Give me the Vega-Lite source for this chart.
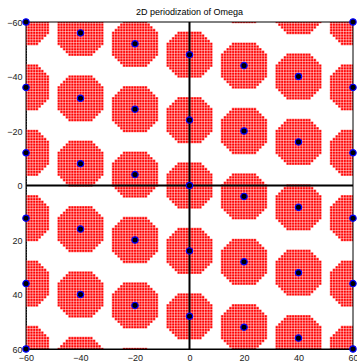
{
  "$schema": "https://vega.github.io/schema/vega-lite/v6.json",
  "width": 327,
  "height": 327,
  "autosize": {"type": "none"},
  "padding": {"left": 26, "top": 22, "right": 4, "bottom": 14},
  "title": {"text": "2D periodization of Omega", "fontSize": 9, "fontWeight": "normal", "font": "Liberation Sans", "color": "black", "offset": -1},
  "config": {
    "view": {"stroke": null},
    "axis": {"domainColor": "black", "domainWidth": 1, "ticks": false, "grid": false, "labelFont": "Liberation Sans", "labelFontSize": 9, "labelColor": "#222", "labelPadding": 4, "labelFlush": false, "labelOverlap": false, "title": null}
  },
  "datasets": {
    "centers": [
      {"x": -60, "y": -60}, {"x": -60, "y": -36}, {"x": -60, "y": -12}, {"x": -60, "y": 12}, {"x": -60, "y": 36}, {"x": -60, "y": 60},
      {"x": -40, "y": -56}, {"x": -40, "y": -32}, {"x": -40, "y": -8}, {"x": -40, "y": 16}, {"x": -40, "y": 40}, {"x": -40, "y": 64},
      {"x": -20, "y": -52}, {"x": -20, "y": -28}, {"x": -20, "y": -4}, {"x": -20, "y": 20}, {"x": -20, "y": 44}, {"x": -20, "y": 68},
      {"x": 0, "y": -48}, {"x": 0, "y": -24}, {"x": 0, "y": 0}, {"x": 0, "y": 24}, {"x": 0, "y": 48},
      {"x": 20, "y": -68}, {"x": 20, "y": -44}, {"x": 20, "y": -20}, {"x": 20, "y": 4}, {"x": 20, "y": 28}, {"x": 20, "y": 52},
      {"x": 40, "y": -64}, {"x": 40, "y": -40}, {"x": 40, "y": -16}, {"x": 40, "y": 8}, {"x": 40, "y": 32}, {"x": 40, "y": 56},
      {"x": 60, "y": -60}, {"x": 60, "y": -36}, {"x": 60, "y": -12}, {"x": 60, "y": 12}, {"x": 60, "y": 36}, {"x": 60, "y": 60}
    ],
    "grid": [
      {"g": -59.5}, {"g": -58.5}, {"g": -57.5}, {"g": -56.5}, {"g": -55.5}, {"g": -54.5}, {"g": -53.5}, {"g": -52.5}, {"g": -51.5}, {"g": -50.5},
      {"g": -49.5}, {"g": -48.5}, {"g": -47.5}, {"g": -46.5}, {"g": -45.5}, {"g": -44.5}, {"g": -43.5}, {"g": -42.5}, {"g": -41.5}, {"g": -40.5},
      {"g": -39.5}, {"g": -38.5}, {"g": -37.5}, {"g": -36.5}, {"g": -35.5}, {"g": -34.5}, {"g": -33.5}, {"g": -32.5}, {"g": -31.5}, {"g": -30.5},
      {"g": -29.5}, {"g": -28.5}, {"g": -27.5}, {"g": -26.5}, {"g": -25.5}, {"g": -24.5}, {"g": -23.5}, {"g": -22.5}, {"g": -21.5}, {"g": -20.5},
      {"g": -19.5}, {"g": -18.5}, {"g": -17.5}, {"g": -16.5}, {"g": -15.5}, {"g": -14.5}, {"g": -13.5}, {"g": -12.5}, {"g": -11.5}, {"g": -10.5},
      {"g": -9.5}, {"g": -8.5}, {"g": -7.5}, {"g": -6.5}, {"g": -5.5}, {"g": -4.5}, {"g": -3.5}, {"g": -2.5}, {"g": -1.5}, {"g": -0.5},
      {"g": 0.5}, {"g": 1.5}, {"g": 2.5}, {"g": 3.5}, {"g": 4.5}, {"g": 5.5}, {"g": 6.5}, {"g": 7.5}, {"g": 8.5}, {"g": 9.5},
      {"g": 10.5}, {"g": 11.5}, {"g": 12.5}, {"g": 13.5}, {"g": 14.5}, {"g": 15.5}, {"g": 16.5}, {"g": 17.5}, {"g": 18.5}, {"g": 19.5},
      {"g": 20.5}, {"g": 21.5}, {"g": 22.5}, {"g": 23.5}, {"g": 24.5}, {"g": 25.5}, {"g": 26.5}, {"g": 27.5}, {"g": 28.5}, {"g": 29.5},
      {"g": 30.5}, {"g": 31.5}, {"g": 32.5}, {"g": 33.5}, {"g": 34.5}, {"g": 35.5}, {"g": 36.5}, {"g": 37.5}, {"g": 38.5}, {"g": 39.5},
      {"g": 40.5}, {"g": 41.5}, {"g": 42.5}, {"g": 43.5}, {"g": 44.5}, {"g": 45.5}, {"g": 46.5}, {"g": 47.5}, {"g": 48.5}, {"g": 49.5},
      {"g": 50.5}, {"g": 51.5}, {"g": 52.5}, {"g": 53.5}, {"g": 54.5}, {"g": 55.5}, {"g": 56.5}, {"g": 57.5}, {"g": 58.5}, {"g": 59.5}
    ],
    "zero": [{"v": 0}],
    "frame": [{"v": -60}, {"v": 60}]
  },
  "layer": [
    {
      "data": {"name": "centers"},
      "mark": {"type": "point", "clip": true, "filled": true, "fill": "#ff0000", "strokeWidth": 0, "opacity": 1, "size": 2146,
        "shape": "M -0.5294 -1 L 0.5294 -1 L 0.5294 -0.8824 L 0.6471 -0.8824 L 0.6471 -0.7647 L 0.7647 -0.7647 L 0.7647 -0.6471 L 0.8824 -0.6471 L 0.8824 -0.5294 L 1 -0.5294 L 1 0.5294 L 0.8824 0.5294 L 0.8824 0.6471 L 0.7647 0.6471 L 0.7647 0.7647 L 0.6471 0.7647 L 0.6471 0.8824 L 0.5294 0.8824 L 0.5294 1 L -0.5294 1 L -0.5294 0.8824 L -0.6471 0.8824 L -0.6471 0.7647 L -0.7647 0.7647 L -0.7647 0.6471 L -0.8824 0.6471 L -0.8824 0.5294 L -1 0.5294 L -1 -0.5294 L -0.8824 -0.5294 L -0.8824 -0.6471 L -0.7647 -0.6471 L -0.7647 -0.7647 L -0.6471 -0.7647 L -0.6471 -0.8824 L -0.5294 -0.8824 Z"},
      "encoding": {
        "x": {"field": "x", "type": "quantitative", "scale": {"domain": [-60, 60], "nice": false, "zero": false}, "axis": {"values": [-60, -40, -20, 0, 20, 40, 60]}},
        "y": {"field": "y", "type": "quantitative", "scale": {"domain": [-60, 60], "nice": false, "zero": false, "reverse": true}, "axis": {"values": [-60, -40, -20, 0, 20, 40, 60]}}
      }
    },
    {
      "data": {"name": "grid"},
      "mark": {"type": "rule", "clip": true, "color": "white", "strokeWidth": 0.5},
      "encoding": {"x": {"field": "g", "type": "quantitative", "axis": {"values": [-60, -40, -20, 0, 20, 40, 60]}}}
    },
    {
      "data": {"name": "grid"},
      "mark": {"type": "rule", "clip": true, "color": "white", "strokeWidth": 0.5},
      "encoding": {"y": {"field": "g", "type": "quantitative", "axis": {"values": [-60, -40, -20, 0, 20, 40, 60]}}}
    },
    {
      "data": {"name": "zero"},
      "mark": {"type": "rule", "color": "black", "strokeWidth": 2},
      "encoding": {"x": {"field": "v", "type": "quantitative", "axis": {"values": [-60, -40, -20, 0, 20, 40, 60]}}}
    },
    {
      "data": {"name": "zero"},
      "mark": {"type": "rule", "color": "black", "strokeWidth": 2},
      "encoding": {"y": {"field": "v", "type": "quantitative", "axis": {"values": [-60, -40, -20, 0, 20, 40, 60]}}}
    },
    {
      "data": {"name": "frame"},
      "mark": {"type": "rule", "color": "black", "strokeWidth": 1},
      "encoding": {"x": {"field": "v", "type": "quantitative", "axis": {"values": [-60, -40, -20, 0, 20, 40, 60]}}}
    },
    {
      "data": {"name": "frame"},
      "mark": {"type": "rule", "color": "black", "strokeWidth": 1},
      "encoding": {"y": {"field": "v", "type": "quantitative", "axis": {"values": [-60, -40, -20, 0, 20, 40, 60]}}}
    },
    {
      "data": {"name": "centers"},
      "transform": [{"filter": {"field": "y", "range": [-60, 60]}}],
      "mark": {"type": "point", "shape": "circle", "filled": true, "fill": "black", "stroke": "#0000ff", "strokeWidth": 1.2, "opacity": 1, "size": 40},
      "encoding": {
        "x": {"field": "x", "type": "quantitative", "axis": {"values": [-60, -40, -20, 0, 20, 40, 60]}},
        "y": {"field": "y", "type": "quantitative", "axis": {"values": [-60, -40, -20, 0, 20, 40, 60]}}
      }
    }
  ]
}
